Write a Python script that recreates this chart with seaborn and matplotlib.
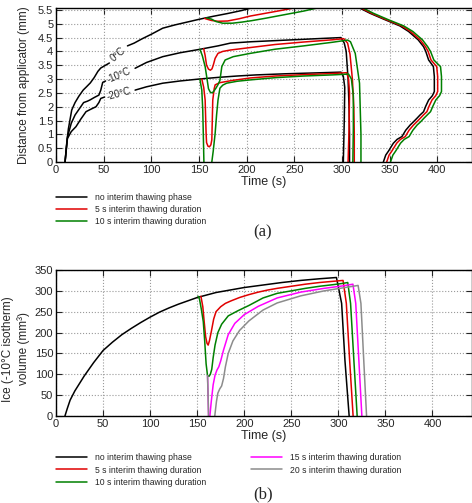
import matplotlib
matplotlib.use("Agg")
import matplotlib.pyplot as plt
import pandas as pd
import seaborn as sns

# legend entries / colours
cases_a = ["no interim thawing phase", "5 s interim thawing duration", "10 s interim thawing duration"]
cases_b = cases_a + ["15 s interim thawing duration", "20 s interim thawing duration"]
colors = ["black", "#e00000", "#008000", "#ff00ff", "#8c8c8c"]

# ---- (a) isotherm distance (mm) vs time (s), one pair of lists per drawn segment ----
# 0 degC isotherm
n0_t1 = [9.5, 11, 13, 16.5, 20, 24, 28.5, 32, 36, 40, 44, 47, 52, 56]
n0_d1 = [0, 0.6, 1.2, 1.88, 2.15, 2.38, 2.6, 2.72, 2.86, 3.05, 3.28, 3.4, 3.5, 3.58]
n0_t2 = [75, 82, 90, 100, 112, 125, 140, 150, 165, 180, 195, 208]
n0_d2 = [4.2, 4.3, 4.45, 4.62, 4.84, 4.96, 5.08, 5.16, 5.27, 5.37, 5.48, 5.6]
f0_t1 = [156, 163, 170, 180, 192, 204, 220, 236, 254]
f0_d1 = [5.19, 5.12, 5.09, 5.1, 5.18, 5.28, 5.38, 5.48, 5.6]
t0_t1 = [158, 163, 168, 175, 185, 195, 205, 220, 240, 260, 278]
t0_d1 = [5.21, 5.17, 5.08, 5.02, 5.02, 5.06, 5.11, 5.2, 5.33, 5.46, 5.6]
# 0 degC isotherm receding after the freeze
thaw_d = [5.6, 5.38, 5.15, 4.92, 4.72, 4.42, 4.17, 4.0, 3.69, 3.55, 3.45, 3.09, 2.55, 2.4,
          2.24, 2.02, 1.82, 1.7, 1.58, 1.45, 1.34, 1.15, 0.92, 0.82, 0.68, 0.4, 0.25, 0]
n0_t3 = [317, 329.5, 345, 361, 370, 380, 385.7, 388, 391, 394, 396, 397, 397, 395,
         391, 388, 385.7, 382, 378.7, 375, 371.7, 367, 363, 358, 354, 349, 346, 343.5]
f0_t2 = [318.5, 331, 346.5, 363, 372, 382, 387.7, 390.5, 393.5, 397, 399.5, 400.5, 400.5, 398.5,
         394.5, 391.5, 389.2, 385.5, 382.2, 378.5, 375.2, 370.5, 366.5, 361.5, 357.5, 352.5, 349.5, 347]
t0_t2 = [320.5, 333, 348.5, 365, 374.5, 384.5, 390, 393, 396.5, 400.5, 403.5, 404.5, 404.5, 402.5,
         398.5, 395.5, 393, 389.5, 386, 382.5, 379, 374.5, 370.5, 365.5, 361.5, 356.5, 353.5, 351]

# -10 degC isotherm
n10_t1 = [9.5, 12, 16, 20, 25, 29, 33, 36, 40, 45, 47, 49, 52]
n10_d1 = [0, 0.9, 1.4, 1.7, 1.95, 2.15, 2.2, 2.25, 2.33, 2.42, 2.6, 2.88, 2.93]
n10_t2 = [83, 95, 112, 130, 150, 170, 183, 205, 230, 255, 280, 299, 302.5, 304.5, 306.5, 307.5, 308, 308]
n10_d2 = [3.39, 3.6, 3.81, 3.95, 4.07, 4.2, 4.3, 4.35, 4.39, 4.43, 4.47, 4.5, 4.3, 4.0, 3.0, 2.0, 1.0, 0]
f10_t1 = [155, 156.5, 158, 160, 162, 163.7, 165, 167, 170, 175, 183, 204, 230, 260, 290,
          302, 306, 308.5, 311, 312.5, 313, 313]
f10_d1 = [4.1, 3.85, 3.5, 3.36, 3.32, 3.37, 3.5, 3.75, 3.93, 4.0, 4.05, 4.14, 4.25, 4.34, 4.42,
          4.46, 4.3, 3.9, 3.0, 2.0, 1.0, 0]
t10_t1 = [151, 153.5, 156.5, 158.5, 160, 162, 164, 166, 168, 170, 172, 174, 177.5, 186, 204, 230,
          260, 290, 306, 309, 314, 318.5, 320, 320]
t10_d1 = [4.08, 3.85, 3.45, 3.0, 2.65, 2.52, 2.5, 2.58, 2.68, 2.8, 2.95, 3.45, 3.69, 3.81, 3.93, 4.08,
          4.2, 4.33, 4.41, 4.35, 3.93, 2.85, 1.0, 0]

# -20 degC isotherm
n20_t1 = [9.5, 12, 16, 21, 26, 31.5, 36, 42, 45, 47, 51]
n20_d1 = [0, 0.85, 1.1, 1.28, 1.55, 1.82, 1.9, 2.0, 2.15, 2.3, 2.35]
n20_t2 = [83, 95, 112, 130, 150, 170, 190, 210, 240, 270, 299, 301.5, 303, 302.5, 301.5]
n20_d2 = [2.6, 2.72, 2.85, 2.93, 3.0, 3.06, 3.11, 3.15, 3.19, 3.22, 3.25, 3.1, 2.7, 1.5, 0]
f20_t1 = [153, 155, 156.5, 157.5, 158, 159.5, 161, 162.5, 163.5, 164.5, 166, 167, 170, 172, 185,
          204, 230, 260, 290, 305, 307, 308, 307.5, 306.5]
f20_d1 = [3.0, 2.7, 2.24, 1.04, 0.7, 0.57, 0.55, 0.62, 0.8, 2.24, 2.65, 2.79, 2.84, 2.87, 2.95,
          3.04, 3.11, 3.16, 3.2, 3.23, 3.0, 2.5, 1.2, 0]
t20_t1 = [151, 153, 154, 154.7, 155.2]
t20_d1 = [2.99, 2.6, 1.88, 0.8, 0]
t20_t2 = [163.5, 165, 167, 168.5, 170, 172, 175, 179, 190, 204, 230, 260, 290, 307, 310, 312, 312, 311.5]
t20_d2 = [0, 0.4, 1.04, 1.7, 2.24, 2.67, 2.78, 2.85, 2.92, 2.97, 3.05, 3.11, 3.15, 3.18, 3.0, 2.4, 1.2, 0]

# contour labels
iso_labels = ["0°C", "-10°C", "-20°C"]
iso_lab_t = [65.5, 66, 65.5]
iso_lab_d = [3.9, 3.15, 2.48]
iso_lab_rot = [40, 23, 15]

# ---- (b) ice volume (mm^3) vs time (s) ----
vb0_t = [9.5, 12, 15, 20, 25, 30, 40, 50, 60, 70, 80, 90, 100, 110, 120, 130, 140, 150, 160,
         170, 180, 190, 200, 220, 240, 260, 280, 298, 303.5, 307, 311.5]
vb0_v = [0, 18, 38, 60, 78, 96, 128, 157, 177, 195, 210, 224, 237, 249, 259, 268, 276, 284, 290,
         296, 300, 304, 308, 314, 320, 325, 329, 332, 270, 134, 0]
vb5_t = [154, 156, 157.5, 159, 160.5, 161.7, 163, 165, 167.5, 170, 175, 180, 186, 195, 205, 215,
         225, 235, 250, 265, 280, 295, 305, 308.5, 312, 315.7]
vb5_v = [287, 262, 225, 190, 174, 170, 180, 202, 232, 250, 262, 270, 276, 284, 291, 297,
         302, 306, 311, 316, 320, 323, 325, 270, 134, 0]
vb10_t = [151, 152.5, 154.5, 156.5, 158, 159.5, 161, 162.5, 164, 165.5, 167, 169, 172, 176, 183,
          193, 205, 220, 235, 250, 265, 280, 295, 305, 310, 313, 316.5, 320]
vb10_v = [287, 280, 255, 226, 180, 125, 97, 95, 100, 112, 140, 170, 200, 220, 240,
          252, 265, 283, 294, 300, 306, 311, 315, 318, 320, 270, 134, 0]
vb15_t1 = [161, 161.6, 162.1]
vb15_v1 = [97, 50, 0]
vb15_t2 = [163.5, 165, 167, 169, 171, 173, 175, 178, 183, 190, 200, 215, 235, 260, 285, 305,
           315.5, 318.5, 321.8, 325]
vb15_v2 = [0, 35, 75, 98, 110, 118, 132, 158, 195, 222, 243, 263, 283, 297, 306, 312,
           316, 270, 134, 0]
vb20_t1 = [161, 161.6, 162.1]
vb20_v1 = [97, 50, 0]
vb20_t2 = [168.7, 170.5, 172, 174, 176, 178, 180, 183, 188, 195, 205, 220, 235, 260, 285, 310,
           321, 324, 327, 330]
vb20_v2 = [0, 35, 55, 65, 72, 90, 118, 150, 180, 205, 228, 254, 271, 288, 300, 309,
           313, 270, 134, 0]

xticks = [0, 50, 100, 150, 200, 250, 300, 350, 400]
a_yticks = [0, 0.5, 1, 1.5, 2, 2.5, 3, 3.5, 4, 4.5, 5, 5.5]
a_ylabels = ["0", "0.5", "1", "1.5", "2", "2.5", "3", "3.5", "4", "4.5", "5", "5.5"]
b_yticks = [0, 50, 100, 150, 200, 250, 300, 350]

segs_a = [
    (cases_a[0], n0_t1, n0_d1), (cases_a[0], n0_t2, n0_d2), (cases_a[0], n0_t3, thaw_d),
    (cases_a[0], n10_t1, n10_d1), (cases_a[0], n10_t2, n10_d2),
    (cases_a[0], n20_t1, n20_d1), (cases_a[0], n20_t2, n20_d2),
    (cases_a[1], f0_t1, f0_d1), (cases_a[1], f0_t2, thaw_d),
    (cases_a[1], f10_t1, f10_d1), (cases_a[1], f20_t1, f20_d1),
    (cases_a[2], t0_t1, t0_d1), (cases_a[2], t0_t2, thaw_d),
    (cases_a[2], t10_t1, t10_d1), (cases_a[2], t20_t1, t20_d1), (cases_a[2], t20_t2, t20_d2),
]
segs_b = [
    (cases_b[0], vb0_t, vb0_v), (cases_b[1], vb5_t, vb5_v), (cases_b[2], vb10_t, vb10_v),
    (cases_b[3], vb15_t1, vb15_v1), (cases_b[3], vb15_t2, vb15_v2),
    (cases_b[4], vb20_t1, vb20_v1), (cases_b[4], vb20_t2, vb20_v2),
]


def to_frame(segs):
    rows = []
    for i, (case, ts, ys) in enumerate(segs):
        for t, y in zip(ts, ys):
            rows.append({"t": t, "y": y, "case": case, "seg": i})
    return pd.DataFrame(rows)


df_a = to_frame(segs_a)
df_b = to_frame(segs_b)

sns.set_style("ticks")
plt.rcParams["font.family"] = ["Liberation Sans", "DejaVu Sans"]

fig = plt.figure(figsize=(4.72, 5.03), dpi=100)
ax1 = fig.add_axes([56 / 472, 1 - 162 / 503, 415.5 / 472, 154 / 503])
ax2 = fig.add_axes([56 / 472, 1 - 416 / 503, 415.5 / 472, 146 / 503])

sns.lineplot(data=df_a, x="t", y="y", hue="case", hue_order=cases_a, palette=colors[:3],
             units="seg", estimator=None, sort=False, lw=1.1, ax=ax1)
sns.lineplot(data=df_b, x="t", y="y", hue="case", hue_order=cases_b, palette=colors,
             units="seg", estimator=None, sort=False, lw=1.1, ax=ax2)

for lab, x, y, r in zip(iso_labels, iso_lab_t, iso_lab_d, iso_lab_rot):
    ax1.text(x, y, lab, rotation=r, ha="center", va="center", fontsize=7,
             rotation_mode="anchor")

ax1.set_xlim(0, 436)
ax1.set_ylim(0, 5.57)
ax1.set_yticks(a_yticks, labels=a_ylabels)
ax2.set_xlim(0, 441.5)
ax2.set_ylim(0, 350)
ax2.set_yticks(b_yticks)

for ax in (ax1, ax2):
    ax.set_xticks(xticks)
    ax.tick_params(direction="in", top=True, right=True, length=4, width=0.8,
                   labelsize=8, pad=2)
    ax.grid(True, linestyle=":", color="#9a9a9a", linewidth=0.8)
    for sp in ax.spines.values():
        sp.set_color("black")
        sp.set_linewidth(1.0)
    ax.set_xlabel("Time (s)", fontsize=9, labelpad=1)

ax1.set_ylabel("Distance from applicator (mm)", fontsize=8.5)
ax1.yaxis.set_label_coords(-0.062, 0.5)
ax2.set_ylabel("Ice (-10°C isotherm)\nvolume (mm³)", fontsize=8.5, linespacing=1.3)
ax2.yaxis.set_label_coords(-0.062, 0.46)

leg_kw = dict(frameon=False, title=None, fontsize=6.2, handlelength=3.6, handletextpad=0.9,
              labelspacing=0.38, borderpad=0, borderaxespad=0)
sns.move_legend(ax1, "upper left", bbox_to_anchor=(0.0, -0.2), **leg_kw)
sns.move_legend(ax2, "upper left", bbox_to_anchor=(0.0, -0.255), ncol=2,
                columnspacing=5.2, **leg_kw)

fig.text(263 / 472, 1 - 232 / 503, "(a)", ha="center", va="center", fontsize=12,
         family="Liberation Serif")
fig.text(263 / 472, 1 - 494 / 503, "(b)", ha="center", va="center", fontsize=12,
         family="Liberation Serif")

fig.savefig("out.png", dpi=100)
